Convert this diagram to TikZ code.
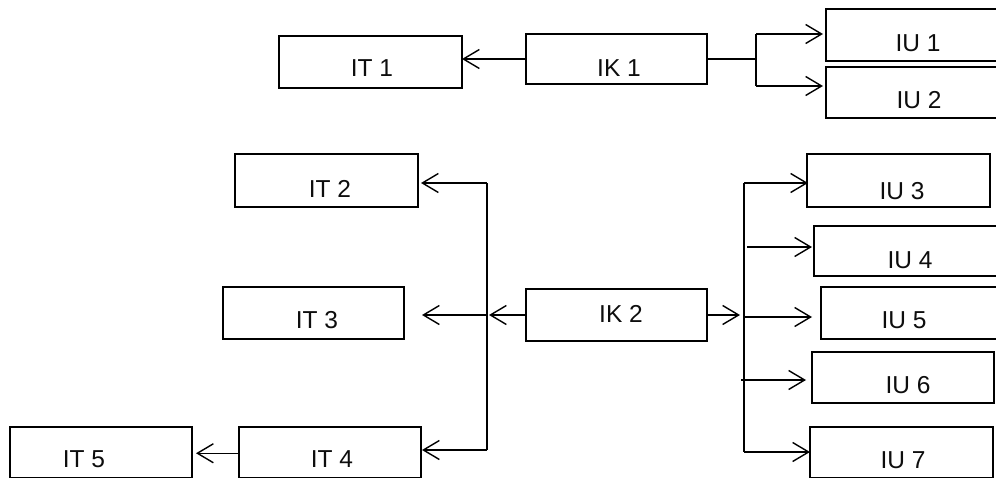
\documentclass[tikz,border=0pt]{standalone}
\usepackage{fontspec}
\setmainfont{Liberation Sans}
\usetikzlibrary{arrows.meta}
\begin{document}
\begin{tikzpicture}[x=1pt,y=-1pt,
  box/.style={draw=black, line width=1.6pt, inner sep=0pt, outer sep=0pt, fill=white},
  lbl/.style={anchor=base, inner sep=0pt, text=black!95, font=\fontsize{24.5}{29}\selectfont},
  conn/.style={line width=1.4pt, black},
  arr/.style={conn, -{Straight Barb[length=16pt,width=19pt,line width=1.4pt]}}]
\useasboundingbox (0,0) rectangle (996,479);
\clip (0,0) rectangle (996,479);
\fill[white] (0,0) rectangle (996,479);
% boxes
\node[box, minimum width=183pt, minimum height=52pt] (it1) at (370.5,62) {};
\node[box, minimum width=181pt, minimum height=50pt] (ik1) at (616.5,59) {};
\node[box, minimum width=184pt, minimum height=52pt] (iu1) at (918,35) {};
\node[box, minimum width=184pt, minimum height=51pt] (iu2) at (918,92.5) {};
\node[box, minimum width=183pt, minimum height=53pt] (it2) at (326.5,180.5) {};
\node[box, minimum width=181pt, minimum height=52pt] (it3) at (313.5,313) {};
\node[box, minimum width=181pt, minimum height=52pt] (ik2) at (616.5,315) {};
\node[box, minimum width=182pt, minimum height=50.5pt] (it4) at (330,452.25) {};
\node[box, minimum width=182pt, minimum height=50.5pt] (it5) at (101,452.25) {};
\node[box, minimum width=183pt, minimum height=53pt] (iu3) at (898.5,180.5) {};
\node[box, minimum width=196pt, minimum height=50pt] (iu4) at (912,251) {};
\node[box, minimum width=189pt, minimum height=52pt] (iu5) at (915.5,313) {};
\node[box, minimum width=182pt, minimum height=51pt] (iu6) at (903,377.5) {};
\node[box, minimum width=183pt, minimum height=50.5pt] (iu7) at (901.5,452.25) {};
% labels
\node[lbl] (t-it1) at (372,76) {IT 1};
\node[lbl] (t-ik1) at (619,76) {IK 1};
\node[lbl] (t-iu1) at (918,51) {IU 1};
\node[lbl] (t-iu2) at (919,108) {IU 2};
\node[lbl] (t-it2) at (330,197) {IT 2};
\node[lbl] (t-it3) at (317,328) {IT 3};
\node[lbl] (t-ik2) at (621,322) {IK 2};
\node[lbl] (t-it4) at (332,467) {IT 4};
\node[lbl] (t-it5) at (84,467) {IT 5};
\node[lbl] (t-iu3) at (902,199) {IU 3};
\node[lbl] (t-iu4) at (910,268) {IU 4};
\node[lbl] (t-iu5) at (904,328) {IU 5};
\node[lbl] (t-iu6) at (908,393) {IU 6};
\node[lbl] (t-iu7) at (903,468) {IU 7};
% junction coordinates
\coordinate (j1) at (756,59);
\coordinate (j1t) at (756,34);
\coordinate (j1b) at (756,86);
\coordinate (jlt) at (487,183);
\coordinate (jlm) at (487,315);
\coordinate (jlb) at (487,450);
\coordinate (it3tip) at (422,315);
\coordinate (jr) at (744,315);
\coordinate (jrt) at (744,183);
\coordinate (jrb) at (744,452);
\coordinate (r4) at (747,247);
\coordinate (r5) at (744,317);
\coordinate (r6) at (741,380);
% group 1
\draw[arr] (ik1.west) -- (ik1.west -| it1.east);
\draw[conn] (ik1.east) -- (j1);
\draw[conn] (j1t) -- (j1b);
\draw[arr] (j1t) -- ([xshift=-3pt]j1t -| iu1.west);
\draw[arr] (j1b) -- ([xshift=-3pt]j1b -| iu2.west);
% group 2 left
\draw[arr] (ik2.west) -- ([xshift=2pt]jlm);
\draw[conn] (jlt) -- (jlb);
\draw[arr] (jlt) -- ([xshift=3pt]jlt -| it2.east);
\draw[arr] (jlm) -- (it3tip);
\draw[arr] (jlb) -- ([xshift=1pt]jlb -| it4.east);
\draw[arr] ([yshift=-1pt]it4.west) -- ([xshift=4pt,yshift=-1pt]it4.west -| it5.east);
% group 2 right
\draw[arr] (ik2.east) -- ([xshift=-4pt]jr);
\draw[conn] (jrt) -- (jrb);
\draw[arr] (jrt) -- ([xshift=1pt]jrt -| iu3.west);
\draw[arr] (r4) -- ([xshift=-2pt]r4 -| iu4.west);
\draw[arr] (r5) -- ([xshift=-9pt]r5 -| iu5.west);
\draw[arr] (r6) -- ([xshift=-6pt]r6 -| iu6.west);
\draw[arr] (jrb) -- (jrb -| iu7.west);
\end{tikzpicture}
\end{document}
